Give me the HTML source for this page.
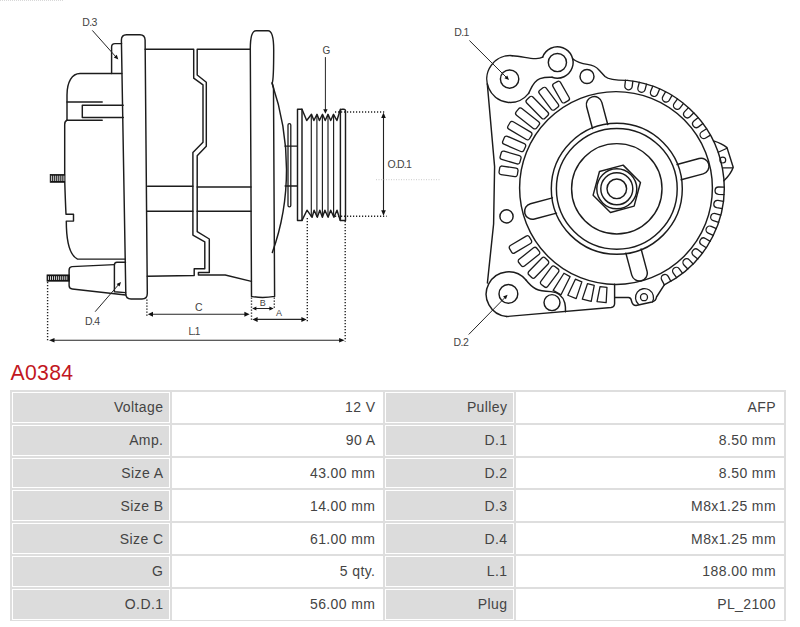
<!DOCTYPE html>
<html><head><meta charset="utf-8"><style>
html,body{margin:0;padding:0;background:#fff;width:800px;height:627px;overflow:hidden;position:relative}
body{font-family:"Liberation Sans",sans-serif}
.t{position:absolute;font-size:14px;line-height:20px;color:#444;letter-spacing:0.4px;white-space:nowrap}
svg text{font-family:"Liberation Sans",sans-serif}
</style></head><body>
<svg width="800" height="360" viewBox="0 0 800 360" style="position:absolute;left:0;top:0">
<path d="M121.4,40 Q121.4,34.7 126.5,34.7 H140 Q144.9,34.7 145.1,40 L147.3,293.5 Q147.3,299 142,299 H131 Q125.8,299 125.8,293.5 Z" fill="none" stroke="#1c1c1c" stroke-width="1.45" stroke-linejoin="round" stroke-linecap="round" />
<path d="M121.6,43.6 H115 Q111.6,43.6 111.6,47 V73.4" fill="none" stroke="#1c1c1c" stroke-width="1.45" stroke-linejoin="round" stroke-linecap="round" />
<path d="M121.8,73.5 H80 C72,73.5 67,82 67,95 V120.3" fill="none" stroke="#1c1c1c" stroke-width="1.45" stroke-linejoin="round" stroke-linecap="round" />
<path d="M67,102 H102.2" fill="none" stroke="#1c1c1c" stroke-width="1.45" stroke-linejoin="round" stroke-linecap="round" />
<path d="M67,120.3 H102.2" fill="none" stroke="#1c1c1c" stroke-width="1.45" stroke-linejoin="round" stroke-linecap="round" />
<path d="M123.2,105.2 H82.3 V117.4 H123.3" fill="none" stroke="#1c1c1c" stroke-width="1.45" stroke-linejoin="round" stroke-linecap="round" />
<path d="M67,120.3 Q64.7,121 64.7,124.5 L64.7,180 Q65.3,200 66,214.3 H73.5 V221.1 H66.3 C66.3,240 69,255 77.5,259.1 H125.2" fill="none" stroke="#1c1c1c" stroke-width="1.45" stroke-linejoin="round" stroke-linecap="round" />
<rect x="50.2" y="174.4" width="14.5" height="7.900000000000006" fill="#151515" stroke="#151515" stroke-width="0.8"/>
<line x1="51.65" y1="175.70000000000002" x2="51.65" y2="181.0" stroke="#fff" stroke-width="0.85"/>
<line x1="53.69" y1="175.70000000000002" x2="53.69" y2="181.0" stroke="#fff" stroke-width="0.85"/>
<line x1="55.73" y1="175.70000000000002" x2="55.73" y2="181.0" stroke="#fff" stroke-width="0.85"/>
<line x1="57.77" y1="175.70000000000002" x2="57.77" y2="181.0" stroke="#fff" stroke-width="0.85"/>
<line x1="59.81" y1="175.70000000000002" x2="59.81" y2="181.0" stroke="#fff" stroke-width="0.85"/>
<line x1="61.85" y1="175.70000000000002" x2="61.85" y2="181.0" stroke="#fff" stroke-width="0.85"/>
<line x1="63.89" y1="175.70000000000002" x2="63.89" y2="181.0" stroke="#fff" stroke-width="0.85"/>
<path d="M125.5,262.2 H117 Q114.4,262.2 114.4,265 V291.8 L125.6,292.6" fill="none" stroke="#1c1c1c" stroke-width="1.45" stroke-linejoin="round" stroke-linecap="round" />
<path d="M114.4,264.6 L72,266.6 Q69.1,266.9 69.1,270 V285.5 Q69.1,288.6 72.3,289 L125.6,295" fill="none" stroke="#1c1c1c" stroke-width="1.45" stroke-linejoin="round" stroke-linecap="round" />
<rect x="47.0" y="274.9" width="22.299999999999997" height="6.300000000000011" fill="#151515" stroke="#151515" stroke-width="0.8"/>
<line x1="48.45" y1="276.2" x2="48.45" y2="279.9" stroke="#fff" stroke-width="0.85"/>
<line x1="50.49" y1="276.2" x2="50.49" y2="279.9" stroke="#fff" stroke-width="0.85"/>
<line x1="52.53" y1="276.2" x2="52.53" y2="279.9" stroke="#fff" stroke-width="0.85"/>
<line x1="54.57" y1="276.2" x2="54.57" y2="279.9" stroke="#fff" stroke-width="0.85"/>
<line x1="56.61" y1="276.2" x2="56.61" y2="279.9" stroke="#fff" stroke-width="0.85"/>
<line x1="58.65" y1="276.2" x2="58.65" y2="279.9" stroke="#fff" stroke-width="0.85"/>
<line x1="60.69" y1="276.2" x2="60.69" y2="279.9" stroke="#fff" stroke-width="0.85"/>
<line x1="62.73" y1="276.2" x2="62.73" y2="279.9" stroke="#fff" stroke-width="0.85"/>
<line x1="64.77" y1="276.2" x2="64.77" y2="279.9" stroke="#fff" stroke-width="0.85"/>
<line x1="66.81" y1="276.2" x2="66.81" y2="279.9" stroke="#fff" stroke-width="0.85"/>
<path d="M145.1,49.2 H193.7 V78.2 L203,84.8 V142.3 L192.9,152.6 V235.1 L204.8,241.8 V268.7 H194.2 V275.5 L147.3,276.3" fill="none" stroke="#1c1c1c" stroke-width="1.45" stroke-linejoin="round" stroke-linecap="round" />
<path d="M250.3,49.2 H197.2 V75 L206.3,82.2 V146.3 L197.2,155.8 V231.7 L209.3,239 V272.5 H198.4 V275 H225.2 L251.4,281.4" fill="none" stroke="#1c1c1c" stroke-width="1.45" stroke-linejoin="round" stroke-linecap="round" />
<path d="M147.6,186.3 H192.9" fill="none" stroke="#1c1c1c" stroke-width="1.45" stroke-linejoin="round" stroke-linecap="round" />
<path d="M197.2,187 H251" fill="none" stroke="#1c1c1c" stroke-width="1.45" stroke-linejoin="round" stroke-linecap="round" />
<path d="M147.3,211.2 H192.9" fill="none" stroke="#1c1c1c" stroke-width="1.45" stroke-linejoin="round" stroke-linecap="round" />
<path d="M197.2,211.2 H251" fill="none" stroke="#1c1c1c" stroke-width="1.45" stroke-linejoin="round" stroke-linecap="round" />
<path d="M250.3,49 Q250.3,30.8 256,30.8 H268 Q273.7,30.8 273.7,50 Q273.7,80 272.2,83 L273.5,88 L274.6,296.4 Q262.3,298.5 251.5,296.4 L250.3,49 Z" fill="none" stroke="#1c1c1c" stroke-width="1.45" stroke-linejoin="round" stroke-linecap="round" />
<path d="M272,83 C291.3,140 291.3,200 272.3,252.5" fill="none" stroke="#1c1c1c" stroke-width="1.45" stroke-linejoin="round" stroke-linecap="round" />
<rect x="288" y="123.6" width="2.8" height="83.2" rx="1.4" fill="none" stroke="#1c1c1c" stroke-width="1.3"/>
<path d="M285,146.1 H297.3" fill="none" stroke="#1c1c1c" stroke-width="1.45" stroke-linejoin="round" stroke-linecap="round" />
<path d="M285.2,186 H297.3" fill="none" stroke="#1c1c1c" stroke-width="1.45" stroke-linejoin="round" stroke-linecap="round" />
<path d="M297.5,220.4 V109.2 H302 V220.4 Z" fill="none" stroke="#1c1c1c" stroke-width="1.45" stroke-linejoin="round" stroke-linecap="round" />
<path d="M340.4,220.4 V111 Q340.4,109.2 342.2,109.2 H343.7 Q345.5,109.2 345.5,111 V220.4 Z" fill="none" stroke="#1c1c1c" stroke-width="1.45" stroke-linejoin="round" stroke-linecap="round" />
<path d="M302,109.2 L306.7,120.5 L311.5,114.3 L313.9,120.5 L317,114.3 L319.4,120.5 L322.5,114.3 L325.2,120.5 L328,114.3 L330.7,120.5 L333.5,114.3 L336.9,120.5 L340.4,109.2" fill="none" stroke="#1c1c1c" stroke-width="1.45" stroke-linejoin="round" stroke-linecap="round" />
<path d="M302,220.4 L307,210.2 L312.1,217.3 L314.1,210.2 L317.3,217.3 L319.8,210.2 L322.4,217.3 L324.9,210.2 L328.1,217.3 L330.7,210.2 L333.9,217.3 L337,210.2 L340.2,220.4" fill="none" stroke="#1c1c1c" stroke-width="1.45" stroke-linejoin="round" stroke-linecap="round" />
<path d="M311.3,115 V216.5" fill="none" stroke="#1c1c1c" stroke-width="1.15" stroke-linejoin="round" stroke-linecap="round" />
<path d="M316.9,115 V216.5" fill="none" stroke="#1c1c1c" stroke-width="1.15" stroke-linejoin="round" stroke-linecap="round" />
<path d="M322.4,115 V216.5" fill="none" stroke="#1c1c1c" stroke-width="1.15" stroke-linejoin="round" stroke-linecap="round" />
<path d="M328.0,115 V216.5" fill="none" stroke="#1c1c1c" stroke-width="1.15" stroke-linejoin="round" stroke-linecap="round" />
<path d="M333.6,115 V216.5" fill="none" stroke="#1c1c1c" stroke-width="1.15" stroke-linejoin="round" stroke-linecap="round" />
<text x="82.3" y="26" font-size="10.5" fill="#444" text-anchor="start" letter-spacing="-0.6">D.3</text>
<path d="M92.6,30.7 L116,57" fill="none" stroke="#262626" stroke-width="1.0" stroke-linejoin="round" stroke-linecap="round" />
<path d="M118.30,59.50 L113.81,57.47 L116.80,54.81 Z" fill="#111"/>
<text x="85" y="325" font-size="10.5" fill="#444" text-anchor="start" letter-spacing="-0.6">D.4</text>
<path d="M95.4,311.4 L118.5,284.7" fill="none" stroke="#262626" stroke-width="1.0" stroke-linejoin="round" stroke-linecap="round" />
<path d="M121.00,281.90 L119.56,286.61 L116.54,283.99 Z" fill="#111"/>
<text x="322.4" y="53.6" font-size="10" fill="#444" text-anchor="start" letter-spacing="0">G</text>
<path d="M325.4,57.5 V110" fill="none" stroke="#262626" stroke-width="1.0" stroke-linejoin="round" stroke-linecap="round" />
<path d="M325.40,113.70 L323.20,109.20 L327.60,109.20 Z" fill="#111"/>
<line x1="335" y1="112" x2="384.5" y2="112" stroke="#222" stroke-width="1.4" stroke-dasharray="1.2 1.8"/>
<line x1="335" y1="216.2" x2="386.6" y2="216.2" stroke="#222" stroke-width="1.4" stroke-dasharray="1.2 1.8"/>
<path d="M383.5,117 V211" fill="none" stroke="#222" stroke-width="1.1" stroke-linejoin="round" stroke-linecap="round" />
<path d="M383.50,112.50 L385.80,118.00 L381.20,118.00 Z" fill="#111"/>
<path d="M383.50,215.80 L381.20,210.30 L385.80,210.30 Z" fill="#111"/>
<text x="387.6" y="168.3" font-size="10.5" fill="#444" text-anchor="start" letter-spacing="-0.8">O.D.1</text>
<line x1="376" y1="179.7" x2="440.4" y2="179.7" stroke="#bbb" stroke-width="0.8" stroke-dasharray="1 1.5"/>
<line x1="146.9" y1="299.5" x2="146.9" y2="316.5" stroke="#222" stroke-width="1.4" stroke-dasharray="1.2 1.8"/>
<path d="M151,314.2 H245" fill="none" stroke="#262626" stroke-width="1.1" stroke-linejoin="round" stroke-linecap="round" />
<path d="M147.80,314.20 L153.00,311.70 L153.00,316.70 Z" fill="#111"/>
<path d="M249.60,314.20 L244.40,316.70 L244.40,311.70 Z" fill="#111"/>
<text x="195" y="311" font-size="10.5" fill="#444" text-anchor="start" letter-spacing="0">C</text>
<line x1="251.5" y1="297.5" x2="251.5" y2="321.5" stroke="#222" stroke-width="1.4" stroke-dasharray="1.2 1.8"/>
<line x1="274.3" y1="297.5" x2="274.3" y2="309.5" stroke="#222" stroke-width="1.4" stroke-dasharray="1.2 1.8"/>
<path d="M255,308.5 H270.5" fill="none" stroke="#262626" stroke-width="1.0" stroke-linejoin="round" stroke-linecap="round" />
<path d="M252.20,308.50 L256.40,306.50 L256.40,310.50 Z" fill="#111"/>
<path d="M273.60,308.50 L269.40,310.50 L269.40,306.50 Z" fill="#111"/>
<text x="259.8" y="305.6" font-size="9" fill="#444" text-anchor="start" letter-spacing="0">B</text>
<path d="M256,319.4 H303" fill="none" stroke="#262626" stroke-width="1.1" stroke-linejoin="round" stroke-linecap="round" />
<path d="M252.40,319.40 L257.60,316.90 L257.60,321.90 Z" fill="#111"/>
<path d="M306.60,319.40 L301.40,321.90 L301.40,316.90 Z" fill="#111"/>
<text x="276" y="315.8" font-size="9" fill="#444" text-anchor="start" letter-spacing="0">A</text>
<line x1="307.3" y1="218" x2="307.3" y2="321.5" stroke="#222" stroke-width="1.4" stroke-dasharray="1.2 1.8"/>
<line x1="47.6" y1="282" x2="47.6" y2="342" stroke="#222" stroke-width="1.4" stroke-dasharray="1.2 1.8"/>
<line x1="345.2" y1="221" x2="345.2" y2="341.5" stroke="#222" stroke-width="1.4" stroke-dasharray="1.2 1.8"/>
<path d="M53,340.2 H340" fill="none" stroke="#262626" stroke-width="1.1" stroke-linejoin="round" stroke-linecap="round" />
<path d="M49.00,340.20 L54.50,337.90 L54.50,342.50 Z" fill="#111"/>
<path d="M344.60,340.20 L339.10,342.50 L339.10,337.90 Z" fill="#111"/>
<text x="188.5" y="335" font-size="10" fill="#444" text-anchor="start" letter-spacing="-1.0">L.1</text>
<circle cx="616.80" cy="188.80" r="9.80" fill="none" stroke="#1c1c1c" stroke-width="1.45"/>
<circle cx="616.80" cy="188.80" r="16.00" fill="none" stroke="#1c1c1c" stroke-width="1.45"/>
<circle cx="616.80" cy="188.80" r="20.00" fill="none" stroke="#1c1c1c" stroke-width="1.45"/>
<path d="M640.47,182.46 L634.12,206.12 L610.46,212.47 L593.13,195.14 L599.48,171.48 L623.14,165.13 Z" fill="none" stroke="#1c1c1c" stroke-width="1.45" stroke-linejoin="round" stroke-linecap="round" />
<circle cx="616.80" cy="188.80" r="45.20" fill="none" stroke="#1c1c1c" stroke-width="1.45"/>
<circle cx="616.80" cy="188.80" r="60.40" fill="none" stroke="#1c1c1c" stroke-width="1.45"/>
<circle cx="616.80" cy="188.80" r="65.50" fill="none" stroke="#1c1c1c" stroke-width="1.45"/>
<path d="M681.15,179.74 L703.17,173.84 A7.9,7.9 0 0 0 699.08,158.57 L677.06,164.48" fill="none" stroke="#1c1c1c" stroke-width="1.45" stroke-linejoin="round" stroke-linecap="round" />
<path d="M625.86,253.15 L631.76,275.17 A7.9,7.9 0 0 0 647.03,271.08 L641.12,249.06" fill="none" stroke="#1c1c1c" stroke-width="1.45" stroke-linejoin="round" stroke-linecap="round" />
<path d="M552.45,197.86 L530.43,203.76 A7.9,7.9 0 0 0 534.52,219.03 L556.54,213.12" fill="none" stroke="#1c1c1c" stroke-width="1.45" stroke-linejoin="round" stroke-linecap="round" />
<path d="M607.74,124.45 L601.84,102.43 A7.9,7.9 0 0 0 586.57,106.52 L592.48,128.54" fill="none" stroke="#1c1c1c" stroke-width="1.45" stroke-linejoin="round" stroke-linecap="round" />
<circle cx="616.00" cy="188.00" r="96.40" fill="none" stroke="#1c1c1c" stroke-width="1.45"/>
<path d="M632.86,81.06 L632.18,86.62 A3.7,3.7 0 0 1 624.83,85.71 L625.51,80.16" fill="none" stroke="#1c1c1c" stroke-width="1.3" stroke-linejoin="round" stroke-linecap="round" />
<path d="M646.49,84.12 L645.10,89.54 A3.7,3.7 0 0 1 637.93,87.70 L639.32,82.28" fill="none" stroke="#1c1c1c" stroke-width="1.3" stroke-linejoin="round" stroke-linecap="round" />
<path d="M659.62,88.91 L657.54,94.11 A3.7,3.7 0 0 1 650.67,91.36 L652.75,86.16" fill="none" stroke="#1c1c1c" stroke-width="1.3" stroke-linejoin="round" stroke-linecap="round" />
<path d="M672.02,95.35 L669.28,100.24 A3.7,3.7 0 0 1 662.82,96.63 L665.56,91.74" fill="none" stroke="#1c1c1c" stroke-width="1.3" stroke-linejoin="round" stroke-linecap="round" />
<path d="M683.48,103.34 L680.14,107.84 A3.7,3.7 0 0 1 674.20,103.42 L677.54,98.93" fill="none" stroke="#1c1c1c" stroke-width="1.3" stroke-linejoin="round" stroke-linecap="round" />
<path d="M693.82,112.74 L689.93,116.77 A3.7,3.7 0 0 1 684.61,111.63 L688.50,107.60" fill="none" stroke="#1c1c1c" stroke-width="1.3" stroke-linejoin="round" stroke-linecap="round" />
<path d="M702.87,123.39 L698.49,126.88 A3.7,3.7 0 0 1 693.88,121.10 L698.25,117.60" fill="none" stroke="#1c1c1c" stroke-width="1.3" stroke-linejoin="round" stroke-linecap="round" />
<path d="M710.47,135.11 L705.68,138.02 A3.7,3.7 0 0 1 701.84,131.69 L706.63,128.78" fill="none" stroke="#1c1c1c" stroke-width="1.3" stroke-linejoin="round" stroke-linecap="round" />
<path d="M724.07,194.53 L718.47,194.38 A3.7,3.7 0 0 1 718.66,186.99 L724.26,187.13" fill="none" stroke="#1c1c1c" stroke-width="1.3" stroke-linejoin="round" stroke-linecap="round" />
<path d="M722.29,208.58 L716.76,207.70 A3.7,3.7 0 0 1 717.92,200.40 L723.45,201.27" fill="none" stroke="#1c1c1c" stroke-width="1.3" stroke-linejoin="round" stroke-linecap="round" />
<path d="M718.69,222.28 L713.32,220.69 A3.7,3.7 0 0 1 715.43,213.59 L720.80,215.18" fill="none" stroke="#1c1c1c" stroke-width="1.3" stroke-linejoin="round" stroke-linecap="round" />
<path d="M713.34,235.39 L708.22,233.11 A3.7,3.7 0 0 1 711.23,226.35 L716.35,228.63" fill="none" stroke="#1c1c1c" stroke-width="1.3" stroke-linejoin="round" stroke-linecap="round" />
<path d="M706.32,247.69 L701.55,244.76 A3.7,3.7 0 0 1 705.41,238.45 L710.19,241.38" fill="none" stroke="#1c1c1c" stroke-width="1.3" stroke-linejoin="round" stroke-linecap="round" />
<path d="M697.76,258.97 L693.41,255.44 A3.7,3.7 0 0 1 698.06,249.69 L702.42,253.22" fill="none" stroke="#1c1c1c" stroke-width="1.3" stroke-linejoin="round" stroke-linecap="round" />
<path d="M687.80,269.03 L683.94,264.97 A3.7,3.7 0 0 1 689.31,259.88 L693.16,263.94" fill="none" stroke="#1c1c1c" stroke-width="1.3" stroke-linejoin="round" stroke-linecap="round" />
<path d="M676.61,277.71 L673.31,273.18 A3.7,3.7 0 0 1 679.30,268.83 L682.59,273.36" fill="none" stroke="#1c1c1c" stroke-width="1.3" stroke-linejoin="round" stroke-linecap="round" />
<path d="M664.38,284.85 L661.70,279.93 A3.7,3.7 0 0 1 668.21,276.40 L670.88,281.32" fill="none" stroke="#1c1c1c" stroke-width="1.3" stroke-linejoin="round" stroke-linecap="round" />
<path d="M627.31,80.39 A108.2,108.2 0 0 1 664.28,284.83" fill="none" stroke="#1c1c1c" stroke-width="1.45" stroke-linejoin="round" stroke-linecap="round" />
<path d="M713.5,140.9 Q722,143.5 727,147.6 L733.2,167.3 Q731,174 723.9,180.8" fill="none" stroke="#1c1c1c" stroke-width="1.45" stroke-linejoin="round" stroke-linecap="round" />
<path d="M718.2,152.3 L727,148.2" fill="none" stroke="#1c1c1c" stroke-width="1.2" stroke-linejoin="round" stroke-linecap="round" />
<path d="M723.3,167.9 L732.7,167.9" fill="none" stroke="#1c1c1c" stroke-width="1.2" stroke-linejoin="round" stroke-linecap="round" />
<circle cx="722.80" cy="160.10" r="2.90" fill="none" stroke="#1c1c1c" stroke-width="1.2"/>
<circle cx="509.60" cy="79.10" r="9.20" fill="none" stroke="#1c1c1c" stroke-width="1.45"/>
<circle cx="557.40" cy="62.50" r="9.10" fill="none" stroke="#1c1c1c" stroke-width="1.45"/>
<path d="M542.65,57.13 A15.7,15.7 0 1 1 552.03,77.25" fill="none" stroke="#1c1c1c" stroke-width="1.45" stroke-linejoin="round" stroke-linecap="round" />
<circle cx="587.00" cy="76.50" r="7.00" fill="none" stroke="#1c1c1c" stroke-width="1.45"/>
<path d="M512.24,55.69 A23.4,23.4 0 1 0 528.64,93.41" fill="none" stroke="#1c1c1c" stroke-width="1.45" stroke-linejoin="round" stroke-linecap="round" />
<path d="M512.24,55.69 C522,56.3 530,59 536,58.6 C539,58.4 541,58 542.65,57.13" fill="none" stroke="#1c1c1c" stroke-width="1.45" stroke-linejoin="round" stroke-linecap="round" />
<path d="M572.6,58.8 C576,61.5 580,63.5 587.4,64.4 C592,65 596,66.5 599,70 L605,76.5 C609,80 616,80.5 627.31,80.39" fill="none" stroke="#1c1c1c" stroke-width="1.45" stroke-linejoin="round" stroke-linecap="round" />
<path d="M528.64,93.41 C531,89 533,81 540,78.6 C544,77.3 548,77 552.03,77.25" fill="none" stroke="#1c1c1c" stroke-width="1.45" stroke-linejoin="round" stroke-linecap="round" />
<path d="M487.3,84 L494.6,166.6 L493.6,224 L487.4,283" fill="none" stroke="#1c1c1c" stroke-width="1.45" stroke-linejoin="round" stroke-linecap="round" />
<circle cx="508.40" cy="293.90" r="9.40" fill="none" stroke="#1c1c1c" stroke-width="1.45"/>
<path d="M525.76,279.80 A22.4,22.4 0 1 0 506.65,316.51" fill="none" stroke="#1c1c1c" stroke-width="1.45" stroke-linejoin="round" stroke-linecap="round" />
<path d="M506.65,316.51 L611,307.5 Q614.6,307 614.6,303.5 V284.3" fill="none" stroke="#1c1c1c" stroke-width="1.45" stroke-linejoin="round" stroke-linecap="round" />
<path d="M525.76,279.80 C529,284 532,287 536,289 C540,291 545,291.3 551,291.6 C558,292.2 563,296 564.8,303 C565.5,306 565.6,309 565.5,311.7" fill="none" stroke="#1c1c1c" stroke-width="1.45" stroke-linejoin="round" stroke-linecap="round" />
<circle cx="552.00" cy="302.60" r="8.00" fill="none" stroke="#1c1c1c" stroke-width="1.45"/>
<path d="M614.8,297.5 H628.5 Q631,297.5 631.5,301 Q632.5,305.5 636,305.5 L652,302 Q656,301 656.5,297 L664.28,284.83" fill="none" stroke="#1c1c1c" stroke-width="1.45" stroke-linejoin="round" stroke-linecap="round" />
<path d="M638.48,304.29 A9.0,9.0 0 1 1 652.45,301.83" fill="none" stroke="#1c1c1c" stroke-width="1.3" stroke-linejoin="round" stroke-linecap="round" />
<circle cx="644.00" cy="297.20" r="3.50" fill="none" stroke="#1c1c1c" stroke-width="1.3"/>
<rect x="-9.25" y="-4.30" width="18.50" height="8.60" rx="2.3" fill="none" stroke="#1c1c1c" stroke-width="1.3" transform="translate(508.53,171.36) rotate(188.8)"/>
<rect x="-10.25" y="-4.30" width="20.50" height="8.60" rx="2.3" fill="none" stroke="#1c1c1c" stroke-width="1.3" transform="translate(510.55,157.56) rotate(196.1)"/>
<rect x="-11.50" y="-4.30" width="23.00" height="8.60" rx="2.3" fill="none" stroke="#1c1c1c" stroke-width="1.3" transform="translate(514.13,143.92) rotate(203.4)"/>
<rect x="-12.50" y="-4.30" width="25.00" height="8.60" rx="2.3" fill="none" stroke="#1c1c1c" stroke-width="1.3" transform="translate(519.80,130.65) rotate(210.8)"/>
<rect x="-13.00" y="-4.30" width="26.00" height="8.60" rx="2.3" fill="none" stroke="#1c1c1c" stroke-width="1.3" transform="translate(527.59,118.43) rotate(218.2)"/>
<rect x="-13.00" y="-4.30" width="26.00" height="8.60" rx="2.3" fill="none" stroke="#1c1c1c" stroke-width="1.3" transform="translate(537.29,107.62) rotate(225.6)"/>
<rect x="-12.25" y="-4.30" width="24.50" height="8.60" rx="2.3" fill="none" stroke="#1c1c1c" stroke-width="1.3" transform="translate(548.75,98.75) rotate(233.0)"/>
<rect x="-11.00" y="-4.30" width="22.00" height="8.60" rx="2.3" fill="none" stroke="#1c1c1c" stroke-width="1.3" transform="translate(561.08,92.11) rotate(240.2)"/>
<rect x="-11.50" y="-4.30" width="23.00" height="8.60" rx="2.3" fill="none" stroke="#1c1c1c" stroke-width="1.3" transform="translate(520.46,244.50) rotate(149.4)"/>
<rect x="-11.50" y="-4.30" width="23.00" height="8.60" rx="2.3" fill="none" stroke="#1c1c1c" stroke-width="1.3" transform="translate(529.01,256.95) rotate(141.6)"/>
<rect x="-11.75" y="-4.30" width="23.50" height="8.60" rx="2.3" fill="none" stroke="#1c1c1c" stroke-width="1.3" transform="translate(538.44,267.76) rotate(134.2)"/>
<rect x="-11.25" y="-4.30" width="22.50" height="8.60" rx="2.3" fill="none" stroke="#1c1c1c" stroke-width="1.3" transform="translate(549.66,276.68) rotate(126.8)"/>
<path d="M563.96,273.23 L553.17,290.34 L561.01,294.75 L570.06,276.67 Z" fill="none" stroke="#1c1c1c" stroke-width="1.3" stroke-linejoin="round" stroke-linecap="round" />
<path d="M575.37,279.22 L567.81,295.26 L576.16,298.63 L581.86,281.84 Z" fill="none" stroke="#1c1c1c" stroke-width="1.3" stroke-linejoin="round" stroke-linecap="round" />
<path d="M587.46,283.70 L582.31,299.09 L591.21,301.41 L594.23,285.46 Z" fill="none" stroke="#1c1c1c" stroke-width="1.3" stroke-linejoin="round" stroke-linecap="round" />
<path d="M600.02,286.57 L597.02,301.52 L606.15,302.67 L606.96,287.45 Z" fill="none" stroke="#1c1c1c" stroke-width="1.3" stroke-linejoin="round" stroke-linecap="round" />
<circle cx="506.50" cy="216.40" r="6.60" fill="none" stroke="#1c1c1c" stroke-width="1.45"/>
<text x="454.2" y="35.7" font-size="10.5" fill="#444" text-anchor="start" letter-spacing="-0.6">D.1</text>
<path d="M469.7,40.8 L506.5,77.5" fill="none" stroke="#262626" stroke-width="1.0" stroke-linejoin="round" stroke-linecap="round" />
<path d="M509.00,80.10 L504.45,78.22 L507.34,75.46 Z" fill="#111"/>
<text x="453.6" y="346.1" font-size="10.5" fill="#444" text-anchor="start" letter-spacing="-0.6">D.2</text>
<path d="M469,334.2 L505,297.5" fill="none" stroke="#262626" stroke-width="1.0" stroke-linejoin="round" stroke-linecap="round" />
<path d="M507.60,294.70 L505.94,299.34 L503.05,296.58 Z" fill="#111"/>
<line x1="0" y1="0.5" x2="64" y2="0.5" stroke="#d8d8d8" stroke-width="1" stroke-dasharray="1 1"/>
</svg>
<div style="position:absolute;left:10.6px;top:361px;font-size:21.2px;line-height:24px;color:#c2161e;letter-spacing:0.3px">A0384</div>
<div style="position:absolute;left:10px;top:390.0px;width:776px;height:231.20px;background:#dedede"></div>
<div style="position:absolute;left:12px;top:392.00px;width:156.00px;height:28.80px;border:1px solid #fff;background:#dcdcdc"></div>
<div class="t" style="right:636.60px;top:397.30px">Voltage</div>
<div style="position:absolute;left:172px;top:392.00px;width:209.20px;height:28.80px;border:1px solid #fff;background:#fff"></div>
<div class="t" style="right:424.60px;top:397.30px">12 V</div>
<div style="position:absolute;left:384.6px;top:392.00px;width:127.40px;height:28.80px;border:1px solid #fff;background:#dcdcdc"></div>
<div class="t" style="right:292.60px;top:397.30px">Pulley</div>
<div style="position:absolute;left:516px;top:392.00px;width:266.20px;height:28.80px;border:1px solid #fff;background:#fff"></div>
<div class="t" style="right:24.00px;top:397.30px">AFP</div>
<div style="position:absolute;left:12px;top:424.80px;width:156.00px;height:28.80px;border:1px solid #fff;background:#dcdcdc"></div>
<div class="t" style="right:636.60px;top:430.10px">Amp.</div>
<div style="position:absolute;left:172px;top:424.80px;width:209.20px;height:28.80px;border:1px solid #fff;background:#fff"></div>
<div class="t" style="right:424.60px;top:430.10px">90 A</div>
<div style="position:absolute;left:384.6px;top:424.80px;width:127.40px;height:28.80px;border:1px solid #fff;background:#dcdcdc"></div>
<div class="t" style="right:292.60px;top:430.10px">D.1</div>
<div style="position:absolute;left:516px;top:424.80px;width:266.20px;height:28.80px;border:1px solid #fff;background:#fff"></div>
<div class="t" style="right:24.00px;top:430.10px">8.50 mm</div>
<div style="position:absolute;left:12px;top:457.60px;width:156.00px;height:28.80px;border:1px solid #fff;background:#dcdcdc"></div>
<div class="t" style="right:636.60px;top:462.90px">Size A</div>
<div style="position:absolute;left:172px;top:457.60px;width:209.20px;height:28.80px;border:1px solid #fff;background:#fff"></div>
<div class="t" style="right:424.60px;top:462.90px">43.00 mm</div>
<div style="position:absolute;left:384.6px;top:457.60px;width:127.40px;height:28.80px;border:1px solid #fff;background:#dcdcdc"></div>
<div class="t" style="right:292.60px;top:462.90px">D.2</div>
<div style="position:absolute;left:516px;top:457.60px;width:266.20px;height:28.80px;border:1px solid #fff;background:#fff"></div>
<div class="t" style="right:24.00px;top:462.90px">8.50 mm</div>
<div style="position:absolute;left:12px;top:490.40px;width:156.00px;height:28.80px;border:1px solid #fff;background:#dcdcdc"></div>
<div class="t" style="right:636.60px;top:495.70px">Size B</div>
<div style="position:absolute;left:172px;top:490.40px;width:209.20px;height:28.80px;border:1px solid #fff;background:#fff"></div>
<div class="t" style="right:424.60px;top:495.70px">14.00 mm</div>
<div style="position:absolute;left:384.6px;top:490.40px;width:127.40px;height:28.80px;border:1px solid #fff;background:#dcdcdc"></div>
<div class="t" style="right:292.60px;top:495.70px">D.3</div>
<div style="position:absolute;left:516px;top:490.40px;width:266.20px;height:28.80px;border:1px solid #fff;background:#fff"></div>
<div class="t" style="right:24.00px;top:495.70px">M8x1.25 mm</div>
<div style="position:absolute;left:12px;top:523.20px;width:156.00px;height:28.80px;border:1px solid #fff;background:#dcdcdc"></div>
<div class="t" style="right:636.60px;top:528.50px">Size C</div>
<div style="position:absolute;left:172px;top:523.20px;width:209.20px;height:28.80px;border:1px solid #fff;background:#fff"></div>
<div class="t" style="right:424.60px;top:528.50px">61.00 mm</div>
<div style="position:absolute;left:384.6px;top:523.20px;width:127.40px;height:28.80px;border:1px solid #fff;background:#dcdcdc"></div>
<div class="t" style="right:292.60px;top:528.50px">D.4</div>
<div style="position:absolute;left:516px;top:523.20px;width:266.20px;height:28.80px;border:1px solid #fff;background:#fff"></div>
<div class="t" style="right:24.00px;top:528.50px">M8x1.25 mm</div>
<div style="position:absolute;left:12px;top:556.00px;width:156.00px;height:28.80px;border:1px solid #fff;background:#dcdcdc"></div>
<div class="t" style="right:636.60px;top:561.30px">G</div>
<div style="position:absolute;left:172px;top:556.00px;width:209.20px;height:28.80px;border:1px solid #fff;background:#fff"></div>
<div class="t" style="right:424.60px;top:561.30px">5 qty.</div>
<div style="position:absolute;left:384.6px;top:556.00px;width:127.40px;height:28.80px;border:1px solid #fff;background:#dcdcdc"></div>
<div class="t" style="right:292.60px;top:561.30px">L.1</div>
<div style="position:absolute;left:516px;top:556.00px;width:266.20px;height:28.80px;border:1px solid #fff;background:#fff"></div>
<div class="t" style="right:24.00px;top:561.30px">188.00 mm</div>
<div style="position:absolute;left:12px;top:588.80px;width:156.00px;height:28.80px;border:1px solid #fff;background:#dcdcdc"></div>
<div class="t" style="right:636.60px;top:594.10px">O.D.1</div>
<div style="position:absolute;left:172px;top:588.80px;width:209.20px;height:28.80px;border:1px solid #fff;background:#fff"></div>
<div class="t" style="right:424.60px;top:594.10px">56.00 mm</div>
<div style="position:absolute;left:384.6px;top:588.80px;width:127.40px;height:28.80px;border:1px solid #fff;background:#dcdcdc"></div>
<div class="t" style="right:292.60px;top:594.10px">Plug</div>
<div style="position:absolute;left:516px;top:588.80px;width:266.20px;height:28.80px;border:1px solid #fff;background:#fff"></div>
<div class="t" style="right:24.00px;top:594.10px">PL_2100</div>
</body></html>
